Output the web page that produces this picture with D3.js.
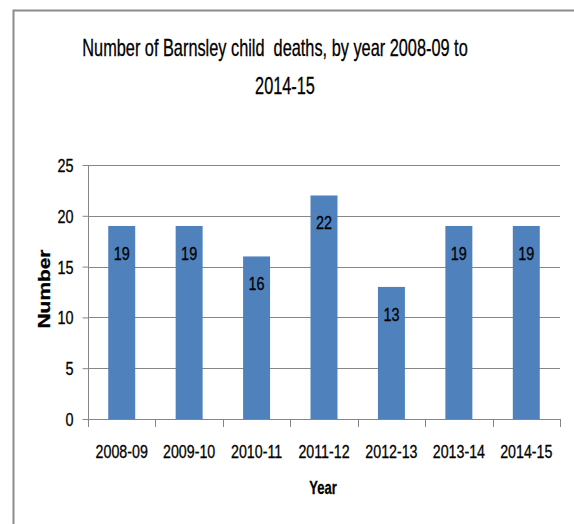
<!DOCTYPE html>
<html><head><meta charset="utf-8">
<script src="https://cdn.jsdelivr.net/npm/d3@7"></script>
<style>
html,body{margin:0;padding:0;background:#fff;}
svg{display:block;}
text{font-family:"Liberation Sans",Arial,sans-serif;fill:#000;stroke:#000;stroke-width:0.3px;}
</style></head>
<body><svg id="c" width="574" height="524"></svg>
<script>
const categories = ["2008-09","2009-10","2010-11","2011-12","2012-13","2013-14","2014-15"];
const values = [19,19,16,22,13,19,19];
const yTicks = [0,5,10,15,20,25];
const titleLines = ["Number of Barnsley child  deaths, by year 2008-09 to","2014-15"];
const xTitle = "Year";
const yTitle = "Number";

const svg = d3.select("#c");
// condensed text helper (Calibri-like narrow look)
function narrowText(parent, str, cx, cy, size, f, opts={}){
  const t = parent.append("text")
    .attr("transform",`translate(${cx},${cy}) ${opts.rotate?`rotate(${opts.rotate})`:""} scale(${f},1)`)
    .attr("text-anchor",opts.anchor||"middle").attr("font-size",size)
    .attr("xml:space","preserve").style("white-space","pre").text(str);
  if(opts.bold) t.attr("font-weight","bold");
  if(opts.family) t.attr("font-family",opts.family);
  return t;
}
// chart border
svg.append("path").attr("d","M13.5,524 L13.5,10.5 L574,10.5").attr("fill","none").attr("stroke","#8c8c8c").attr("stroke-width",2);

const m = {left:88, right:560, top:165, bottom:419};
const x = d3.scaleBand().domain(categories).range([m.left,m.right]).paddingInner(0.6).paddingOuter(0.3);
const xb = d3.scaleBand().domain(categories).range([m.left,m.right]);
const y = d3.scaleLinear().domain([0,25]).range([m.bottom,m.top]);

// gridlines
svg.append("g").selectAll("line").data(yTicks.filter(d=>d>0)).join("line")
  .attr("x1",m.left).attr("x2",m.right).attr("y1",d=>Math.round(y(d))+0.5).attr("y2",d=>Math.round(y(d))+0.5)
  .attr("stroke","#868686").attr("stroke-width",1);

// y axis
const fy = 0.8;
const ya = svg.append("g").attr("transform",`translate(${m.left+0.5},0)`)
  .call(d3.axisLeft(y).tickValues(yTicks).tickSize(6).tickPadding(9).tickFormat(d3.format("d")));
ya.select(".domain").attr("stroke","#868686").attr("d",`M0,${m.top}V${m.bottom}`);
ya.selectAll(".tick line").attr("stroke","#868686");
ya.selectAll(".tick text").attr("font-size",18).attr("dy","0.36em").attr("font-family","Liberation Sans, sans-serif")
  .attr("fill","#000").attr("x",-15/fy).attr("transform",`scale(${fy},1)`);

// bars
svg.append("g").selectAll("rect").data(values).join("rect")
  .attr("x",(d,i)=>x(categories[i])).attr("width",x.bandwidth())
  .attr("y",d=>y(d)).attr("height",d=>y(0)-y(d)).attr("fill","#4F81BD");

// x axis
const xa = svg.append("g").attr("transform",`translate(0,${m.bottom+0.5})`)
  .call(d3.axisBottom(xb).tickSize(0).tickPadding(0));
xa.select(".domain").attr("stroke","#868686").attr("d",`M${m.left},0H${m.right}`);
xa.selectAll(".tick text").attr("font-size",18).attr("dy",0).attr("y",39).attr("font-family","Liberation Sans, sans-serif")
  .attr("fill","#000").attr("transform","scale(0.79,1)");
// category boundary ticks
const bounds = categories.map(c=>xb(c)).concat([m.right]);
svg.append("g").selectAll("line").data(bounds).join("line")
  .attr("x1",d=>Math.round(d)+0.5).attr("x2",d=>Math.round(d)+0.5).attr("y1",m.bottom).attr("y2",m.bottom+8)
  .attr("stroke","#868686");

// data labels
const dlg = svg.append("g");
values.forEach((v,i)=>narrowText(dlg, String(v), x(categories[i])+x.bandwidth()/2, y(v)+34, 19, 0.76));

// titles
const tg = svg.append("g");
narrowText(tg, titleLines[0], 275, 56, 24, 0.68);
narrowText(tg, titleLines[1], 285, 94, 24, 0.68);

narrowText(svg, xTitle, 323, 494, 18, 0.72, {bold:true});
const yt = svg.append("text").attr("transform","translate(50,289) rotate(-90)").attr("text-anchor","middle")
  .attr("font-family","DejaVu Sans, sans-serif").attr("font-size",16).attr("font-weight","bold").text(yTitle);
yt.each(function(){ const w=this.getComputedTextLength(); this.setAttribute("transform",`translate(50,289) rotate(-90) scale(${(79/w).toFixed(3)},1)`); });
</script></body></html>
